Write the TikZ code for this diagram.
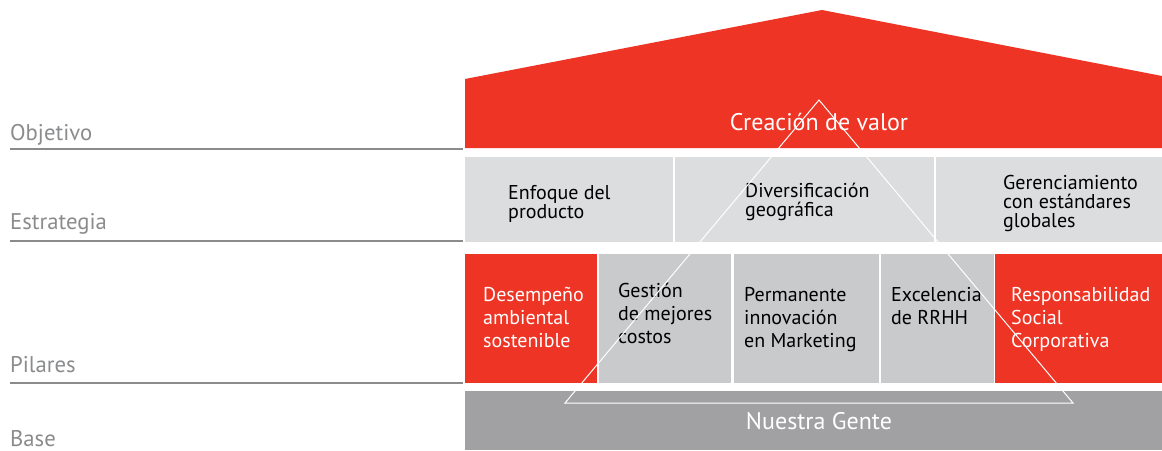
\documentclass[tikz,border=0pt]{standalone}
\usepackage{fontspec}
\setmainfont{PT Sans}
\definecolor{rojo}{HTML}{EE3424}
\definecolor{grisclaro}{HTML}{DCDDDF}
\definecolor{grismedio}{HTML}{C9CACC}
\definecolor{grisoscuro}{HTML}{A1A1A3}
\definecolor{gristexto}{HTML}{8A8B8D}
\begin{document}
\begin{tikzpicture}[x=1pt,y=-1pt]
\tikzset{caja/.style = {anchor=north west, inner sep=0pt, outer sep=0pt},
  estr/.style = {anchor=north west, align=left, inner sep=0pt, font=\fontsize{20}{19}\selectfont},
  pilar/.style = {anchor=north west, align=left, inner sep=0pt, font=\fontsize{20}{23}\selectfont},
  etiqueta/.style = {anchor=base west, inner sep=0pt, text=gristexto, font=\fontsize{22.7}{26}\selectfont},
  linea/.style = {draw=gristexto, line width=1.4pt}}
\useasboundingbox (0,0) rectangle (1162,450);
% techo
\fill[rojo] (465,148) -- (465,79) -- (822,10) -- (1162,76) -- (1162,148) -- cycle;
\node[text=white, font=\fontsize{24}{28}\selectfont] (valor) at (819,122) {Creación de valor};
% estrategia
\node[caja, fill=grisclaro, minimum width=208pt, minimum height=85pt] (enfoque) at (465,157) {};
\node[caja, fill=grisclaro, minimum width=259pt, minimum height=85pt] (diversif) at (675,157) {};
\node[caja, fill=grisclaro, minimum width=226pt, minimum height=85pt] (gerenc) at (936,157) {};
\node[estr] (tenfoque) at (508,185) {Enfoque del\\producto};
\node[estr] (tdiversif) at (745,183) {Diversificación\\geográfica};
\node[estr] (tgerenc) at (1003,175) {Gerenciamiento\\con estándares\\globales};
% pilares
\node[caja, fill=rojo, minimum width=132pt, minimum height=129pt] (desemp) at (465,254) {};
\node[caja, fill=grismedio, minimum width=132pt, minimum height=129pt] (gestion) at (599,254) {};
\node[caja, fill=grismedio, minimum width=145pt, minimum height=129pt] (permanente) at (734,254) {};
\node[caja, fill=grismedio, minimum width=113pt, minimum height=129pt] (excelencia) at (881,254) {};
\node[caja, fill=rojo, minimum width=167pt, minimum height=129pt] (respons) at (995,254) {};
\node[pilar, text=white] (tdesemp) at (483,287) {Desempeño\\ambiental\\sostenible};
\node[pilar] (tgestion) at (618,283) {Gestión\\de mejores\\costos};
\node[pilar] (tpermanente) at (744,287) {Permanente\\innovación\\en Marketing};
\node[pilar] (texcelencia) at (891,287) {Excelencia\\de RRHH};
\node[pilar, text=white] (trespons) at (1011,287) {Responsabilidad\\Social\\Corporativa};
% base
\node[caja, fill=grisoscuro, minimum width=697pt, minimum height=59pt] (base) at (465,391) {};
\node[text=white, font=\fontsize{24}{28}\selectfont] (gente) at (819,421) {Nuestra Gente};
% triangulo
\coordinate (cima) at (819,100);
\coordinate (derecha) at (1073,403);
\coordinate (izquierda) at (565,403);
\draw[white, line width=1pt] (cima) -- (derecha) -- (izquierda) -- cycle;
% etiquetas
\node[etiqueta] (objetivo) at (10,140) {Objetivo};
\node[etiqueta] (estrategia) at (10,229) {Estrategia};
\node[etiqueta] (pilares) at (10,372) {Pilares};
\node[etiqueta] (nivelbase) at (10,446) {Base};
\draw[linea] (10,149) -- (463,149);
\draw[linea] (10,241) -- (463,241);
\draw[linea] (10,383) -- (463,383);
\end{tikzpicture}
\end{document}
